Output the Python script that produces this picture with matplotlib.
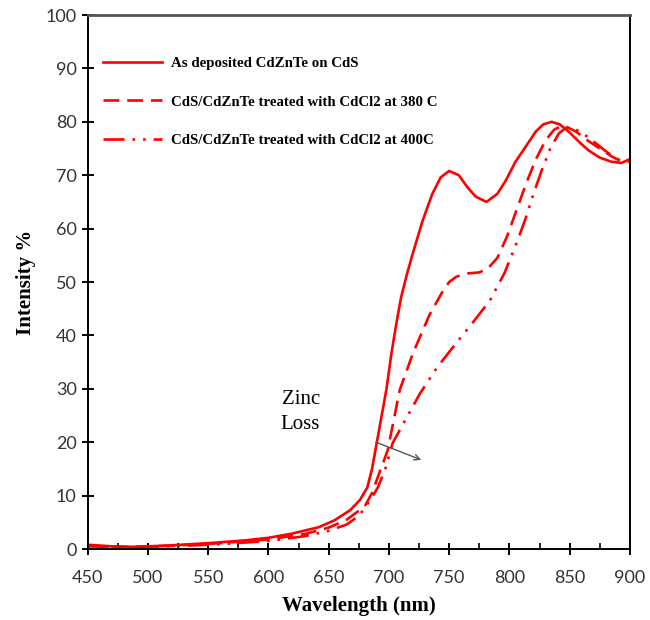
import matplotlib
matplotlib.use("Agg")
import matplotlib.pyplot as plt
from matplotlib.ticker import MultipleLocator

# wavelength (nm) and intensity (%)
wl_asdep = [450, 470, 490, 520, 550, 580, 600, 620, 642, 655, 668, 676, 682, 686,
            690, 694, 698, 702, 706, 710, 715, 720, 728, 736, 743, 750, 758, 765,
            772, 781, 790, 797, 805, 814, 822, 828, 835, 842, 850, 858, 866, 875,
            885, 893, 900]
int_asdep = [0.8, 0.5, 0.4, 0.7, 1.1, 1.6, 2.1, 2.9, 4.1, 5.4, 7.3, 9.2, 11.5, 15.0,
             20.0, 25.0, 30.0, 36.5, 42.0, 47.0, 51.5, 55.5, 61.5, 66.5, 69.6, 70.8, 70.0, 67.8,
             66.0, 65.0, 66.5, 69.0, 72.5, 75.5, 78.2, 79.5, 80.0, 79.5, 78.0, 76.2, 74.6, 73.3,
             72.5, 72.3, 73.0]

wl_380 = [450, 480, 520, 560, 600, 630, 650, 665, 674, 680, 686, 692, 699, 709,
          720, 734, 744, 750, 756, 765, 775, 782, 790, 798, 806, 814, 822, 830,
          837, 843, 848, 855, 865, 875, 885, 893, 900]
int_380 = [0.6, 0.4, 0.6, 1.1, 1.8, 2.8, 4.0, 5.5, 7.0, 8.0, 10.5, 14.2, 18.5, 29.8,
           36.7, 44.0, 48.0, 50.0, 51.0, 51.6, 51.8, 52.5, 54.5, 58.5, 63.5, 68.5, 73.0, 76.5,
           78.5, 79.2, 79.0, 78.2, 76.5, 75.0, 73.5, 72.6, 72.5]

wl_400 = [450, 480, 520, 560, 600, 630, 650, 665, 675, 680, 686, 691, 697, 703,
          712, 726, 740, 756, 770, 784, 796, 806, 813, 820, 827, 834, 841, 847,
          853, 860, 870, 880, 888, 895]
int_400 = [0.5, 0.3, 0.5, 0.9, 1.5, 2.4, 3.4, 4.6, 6.2, 7.7, 9.7, 11.6, 15.0, 19.8,
           23.5, 29.2, 34.0, 38.6, 42.5, 46.6, 51.7, 57.3, 61.6, 66.5, 71.0, 75.0, 77.8, 78.9,
           78.8, 78.0, 76.3, 74.5, 73.2, 72.5]

labels = ["As deposited CdZnTe on CdS",
          "CdS/CdZnTe treated with CdCl2 at 380 C",
          "CdS/CdZnTe treated with CdCl2 at 400C"]

x_ticks = list(range(450, 901, 50))
y_ticks = list(range(0, 101, 10))

red = "#ff0000"
serif = "Liberation Serif"

fig = plt.figure(figsize=(6.5, 6.2), dpi=100)
ax = fig.add_axes([0.135, 0.1145, 0.834, 0.8613])

ax.plot(wl_asdep, int_asdep, color=red, lw=1.9, label=labels[0])
ax.plot(wl_380, int_380, color=red, lw=1.9, dashes=(6, 3), label=labels[1])
ax.plot(wl_400, int_400, color=red, lw=1.9, dashes=(8, 3, 1, 3, 1, 3), label=labels[2])

ax.set_xlim(450, 900)
ax.set_ylim(0, 100)
ax.set_xticks(x_ticks)
ax.set_yticks(y_ticks)
ax.xaxis.set_minor_locator(MultipleLocator(25))
ax.tick_params(which="major", direction="inout", length=8, width=1.4,
               labelsize=13, labelcolor="#333333")
ax.tick_params(axis="x", which="major", pad=11)
ax.tick_params(axis="y", which="major", pad=4)
ax.tick_params(axis="x", which="minor", direction="in", length=4, width=1.2)
for lab in ax.get_xticklabels() + ax.get_yticklabels():
    lab.set_family("Lato")

for side in ["left", "bottom", "right"]:
    ax.spines[side].set_linewidth(1.4)
    ax.spines[side].set_color("black")
ax.spines["top"].set_linewidth(2.0)
ax.spines["top"].set_color("#555555")

ax.set_xlabel("Wavelength (nm)", family=serif, fontweight="bold", fontsize=15, labelpad=7)
ax.set_ylabel("Intensity %", family=serif, fontweight="bold", fontsize=15, labelpad=7)

leg = ax.legend(loc="upper left", bbox_to_anchor=(0.003, 0.947), frameon=False,
                handlelength=4.0, handletextpad=0.6, labelspacing=1.69,
                prop={"family": serif, "weight": "bold", "size": 10.7})

ax.annotate("", xy=(729, 16.5), xytext=(687, 20.2),
            arrowprops=dict(arrowstyle="->", color="#555555", lw=1.0))
ax.text(611, 28, "Zinc", family=serif, fontsize=15, va="center", ha="left")
ax.text(610, 23.3, "Loss", family=serif, fontsize=15, va="center", ha="left")

fig.savefig("out.png", dpi=100)
